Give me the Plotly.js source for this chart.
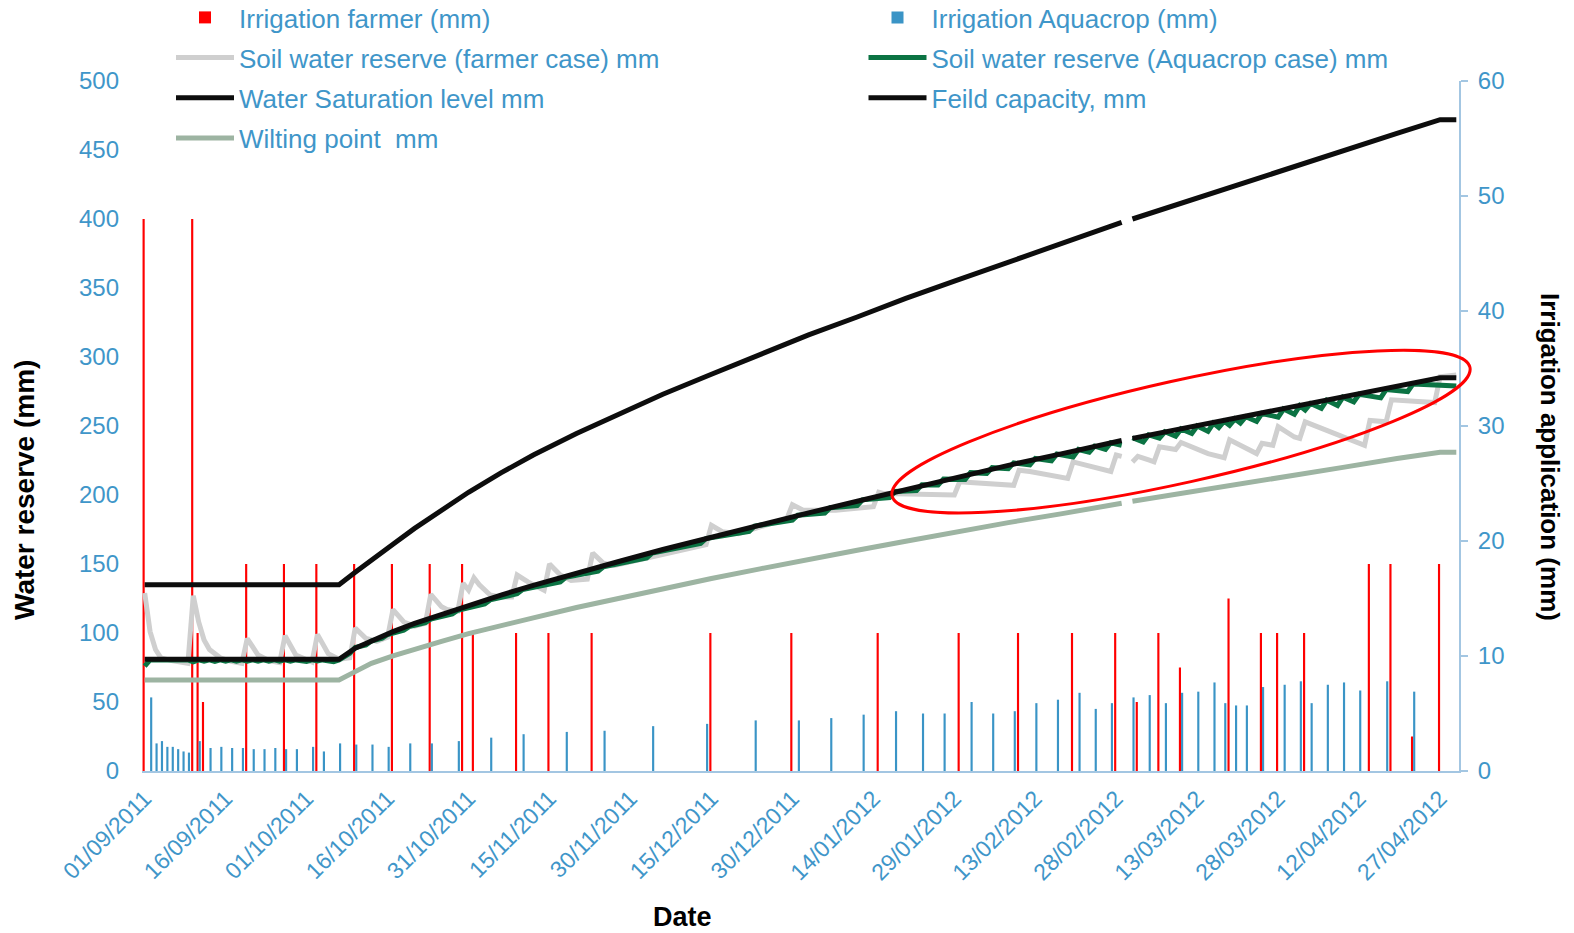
<!DOCTYPE html>
<html>
<head>
<meta charset="utf-8">
<script src="https://cdn.plot.ly/plotly-3.0.1.min.js"></script>
<style>html,body{margin:0;padding:0;background:#fff;}#chart{width:1574px;height:933px;}</style>
</head>
<body>
<div id="chart"></div>
<script>
// ---- Axis tick labels (day index from 01/09/2011) ----
const tickDays = [0,15,30,45,60,75,90,105,120,135,150,165,180,195,210,225,240];
const tickLabels = ['01/09/2011','16/09/2011','01/10/2011','16/10/2011','31/10/2011','15/11/2011','30/11/2011','15/12/2011','30/12/2011','14/01/2012','29/01/2012','13/02/2012','28/02/2012','13/03/2012','28/03/2012','12/04/2012','27/04/2012'];

// ---- Irrigation farmer (mm) ----
const farmerIrrDay = [0,9,10,11,19,26,32,39,46,53,59,61,69,75,83,105,120,136,151,162,172,180,184,188,192,201,207,210,215,227,231,235,240];
const farmerIrrMm  = [48,48,12,6,18,18,18,18,18,18,18,12,12,12,12,12,12,12,12,12,12,12,6,12,9,15,12,12,12,18,18,3,18];

// ---- Irrigation Aquacrop (mm) ----
const aquaIrrDay = [1,2,3,4,5,6,7,8,10,12,14,16,18,20,22,24,26,28,31,33,36,39,42,45,49,53,58,64,70,78,85,94,104,113,121,127,133,139,144,148,153,157,161,165,169,173,176,179,183,186,189,192,195,198,200,202,204,207,211,214,216,219,222,225,230,235];
const aquaIrrMm  = [6.4,2.4,2.6,2.1,2.1,1.9,1.7,1.6,2.6,2.0,2.1,2.0,2.0,1.9,1.9,2.0,1.9,1.9,2.1,1.7,2.4,2.3,2.3,2.1,2.4,2.4,2.6,2.9,3.2,3.4,3.5,3.9,4.1,4.4,4.4,4.6,4.9,5.2,5.0,5.0,6.0,5.0,5.2,5.9,6.2,6.8,5.4,5.9,6.4,6.6,5.9,6.8,6.9,7.7,5.9,5.7,5.7,7.3,7.5,7.8,5.9,7.5,7.7,7.0,7.8,6.9];

// ---- Soil water reserve (farmer case) mm ----
const farmerSwDay = [0,1,2,3,5,8,9,10,11,12,14,16,18,19,21,23,25,26,28,30,31,32,34,36,38,39,41,43,45,46,48,50,52,53,55,56,58,59,60,61,62,64,66,68,69,71,74,75,77,79,82,83,85,87,95,104,105,107,110,119,120,122,128,135,136,137,150,151,153,161,162,164,171,172,174,179,180,181,182,183,184,186,187,188,190,191,192,197,200,201,206,207,209,210,213,214,215,220,226,227,230,231,235,239,240,243];
const farmerSwMm  = [129,101,88,82,80,78,127,108,95,88,82,79.5,78,96,84,80,78.5,98,84,80,79,99,85,81,82,103.5,96,94,97,117,108,105,107,128,119,117,116,136,131,140,135,127.5,126,126,142,137,131,150,142,138,139,158,150.5,149,156,164,178,173.4,172,183,193,189,189,191.5,202,201,200,209.6,209,207,218,217,212,224,222,217,229,228,null,224,228,225.4,224,235,234,233,238,230,227,240,230,237.5,236,249.5,242,241,253,245,236,254,253,269,268,267,285.7,287];

// ---- Soil water reserve (Aquacrop case) mm ----
const aquaSwDay = [0,1,8,9,10,11,12,13,14,15,16,17,18,19,20,21,22,23,24,25,26,27,28,30,31,32,33,35,36,38,39,41,42,44,45,48,49,52,53,57,58,63,64,69,70,77,78,84,85,93,94,103,104,112,113,120,121,126,127,132,133,138,139,143,144,147,148,152,153,156,157,160,161,164,165,168,169,172,173,175,176,178,179,181,182,183,185,186,188,189,191,192,194,195,197,198,199,200,201,202,203,204,206,207,210,211,213,214,215,216,218,219,221,222,224,225,229,230,234,235,243];
const aquaSwMm  = [76,80.5,80.5,79.1,80.5,79.5,80.5,79.4,80.5,79.5,80.5,79.5,80.5,79.6,80.5,79.6,80.5,79.5,80.5,79.6,80.5,79.6,80.5,79.4,80.5,79.7,80.5,79.2,80.5,85.3,89.5,91.4,94.2,96.3,98.9,102,104.6,107.5,110.1,113.8,116.5,121.1,124,128.4,131.5,137.1,140.3,144.8,148,154.4,157.9,164.9,168.5,173.7,177.5,181.7,185.4,186.9,190.8,192.3,196.5,198.1,202.5,203.3,207.5,207.3,211.5,211.3,216.2,215.7,219.8,219.1,223.3,221.8,226.5,224.7,229.7,227.5,233,231,235.4,233.1,237.9,236,null,241.5,238.4,243.6,241.2,245.8,242.6,247.9,244.6,250,246.1,252.1,248.9,253.5,250.5,255.1,252.1,256.7,253.3,259.1,256.4,262.3,258.5,264.7,261.6,266.3,262.8,268.7,264.9,270.9,267.5,273,270.4,276.5,275,280.5,279];

// ---- Water Saturation level mm ----
const satDay = [0,36,39,42,46,50,55,60,66,72,80,88,96,105,114,123,132,141,150,160,170,181,182,183,192,202,212,222,232,240,243];
const satMm  = [135,135,144,153,164.4,175.8,189.3,202,216,229,244.6,259,273,287.5,302,316,329,342.5,355,369,382.5,397.5,null,400,411.5,424.5,437,449.5,462,472,472];

// ---- Feild capacity, mm ----
const fcDay = [0,36,39,42,46,50,55,60,66,72,80,88,96,105,114,123,132,141,150,160,170,181,182,183,192,202,212,222,232,240,243];
const fcMm  = [81,81,89,94.5,101,107,113.5,120,127.5,134.5,143.5,152,160.5,169.5,178,187,195.5,204,212.5,221.5,230,239.5,null,241,248,256,264,271.5,279,285,285];

// ---- Wilting point mm ----
const wpDay = [0,36,39,42,46,50,55,60,66,72,80,88,96,105,114,123,132,141,150,160,170,181,182,183,192,202,212,222,232,240,243];
const wpMm  = [66,66,72,78,83.5,88.5,94,99.5,105.5,111,118.5,125.5,132,139.5,146.5,153.5,160,166.5,173,180,186.5,194,null,195.5,201,207.5,214,220,226.5,231,231];

// ---- styling ----
const FONT = 'Liberation Sans, Arial, sans-serif';
const BLUE_TXT = '#3F96C9';
const AXIS_LINE = '#A3C6E2';
const PLOT = {l:142, r:115, t:81, b:162, W:1574, H:933};
const plotW = PLOT.W - PLOT.l - PLOT.r;
const plotH = PLOT.H - PLOT.t - PLOT.b;
const px2x = px => (px - PLOT.l) / plotW;
const px2y = py => (PLOT.H - PLOT.b - py) / plotH;

// rotated ellipse (highlight) drawn with cubic Béziers in paper coords
function ellipsePath(cx, cy, a, b, deg) {
  const t = deg * Math.PI / 180, c = Math.cos(t), s = Math.sin(t), k = 0.5523;
  const P = (u, v) => {
    const X = cx + u * c + v * s;
    const Y = cy - u * s + v * c;
    return px2x(X).toFixed(5) + ',' + px2y(Y).toFixed(5);
  };
  return 'M' + P(a, 0) +
    ' C' + P(a, k*b) + ' ' + P(k*a, b) + ' ' + P(0, b) +
    ' C' + P(-k*a, b) + ' ' + P(-a, k*b) + ' ' + P(-a, 0) +
    ' C' + P(-a, -k*b) + ' ' + P(-k*a, -b) + ' ' + P(0, -b) +
    ' C' + P(k*a, -b) + ' ' + P(a, -k*b) + ' ' + P(a, 0) + ' Z';
}

const traces = [
  {type:'bar', name:'Irrigation farmer (mm)', x:farmerIrrDay, y:farmerIrrMm, yaxis:'y',
   marker:{color:'#FF0000', line:{width:0}}, legend:'legend', legendgroup:'a1', legendrank:1},
  {type:'bar', name:'Irrigation Aquacrop (mm)', x:aquaIrrDay, y:aquaIrrMm, yaxis:'y',
   marker:{color:'#3A94C6', line:{width:0}}, legend:'legend2', legendgroup:'b1', legendrank:1},
  {type:'scatter', mode:'lines', name:'Soil water reserve (farmer case) mm', x:farmerSwDay, y:farmerSwMm, yaxis:'y2',
   line:{color:'#CFCFCF', width:5}, legend:'legend', legendgroup:'a2', legendrank:2},
  {type:'scatter', mode:'lines', name:'Soil water reserve (Aquacrop case) mm', x:aquaSwDay, y:aquaSwMm, yaxis:'y2',
   line:{color:'#0B7343', width:5}, legend:'legend2', legendgroup:'b2', legendrank:2},
  {type:'scatter', mode:'lines', name:'Water Saturation level mm', x:satDay, y:satMm, yaxis:'y2',
   line:{color:'#0D0D0D', width:5}, legend:'legend', legendgroup:'a3', legendrank:3},
  {type:'scatter', mode:'lines', name:'Feild capacity, mm', x:fcDay, y:fcMm, yaxis:'y2',
   line:{color:'#0D0D0D', width:5}, legend:'legend2', legendgroup:'b3', legendrank:3},
  {type:'scatter', mode:'lines', name:'Wilting point  mm', x:wpDay, y:wpMm, yaxis:'y2',
   line:{color:'#9DB4A2', width:5}, legend:'legend', legendgroup:'a4', legendrank:4}
];

const ITEMW = 58;
const legendBase = {
  xref:'container', yref:'paper', xanchor:'left', yanchor:'top', y:px2y(-6),
  orientation:'v', traceorder:'grouped', tracegroupgap:3.4, itemwidth:ITEMW,
  font:{size:26, color:BLUE_TXT, family:FONT}, bgcolor:'rgba(0,0,0,0)', borderwidth:0
};

const layout = {
  width:PLOT.W, height:PLOT.H,
  margin:{l:PLOT.l, r:PLOT.r, t:PLOT.t, b:PLOT.b, autoexpand:false},
  paper_bgcolor:'#ffffff', plot_bgcolor:'#ffffff',
  font:{family:FONT, color:BLUE_TXT},
  barmode:'group', bargap:0.2,
  showlegend:true,
  legend:Object.assign({}, legendBase, {x:(239 - ITEMW - 10)/1574}),
  legend2:Object.assign({}, legendBase, {x:(931.5 - ITEMW - 10)/1574}),
  xaxis:{range:[-0.5,243.5], tickmode:'array', tickvals:tickDays, ticktext:tickLabels, tickangle:-45,
    tickfont:{size:23, color:BLUE_TXT, family:FONT}, showline:true, linecolor:AXIS_LINE, linewidth:2,
    showgrid:false, zeroline:false, ticks:'', ticklabelstandoff:3, fixedrange:true},
  yaxis:{range:[0,60], side:'right', tick0:0, dtick:10, showline:true, linecolor:AXIS_LINE, linewidth:2,
    ticks:'outside', ticklen:7, tickwidth:2, tickcolor:AXIS_LINE,
    tickfont:{size:24, color:BLUE_TXT, family:FONT}, showgrid:false, zeroline:false, ticklabelstandoff:5, fixedrange:true},
  yaxis2:{range:[0,500], overlaying:'y', side:'left', tick0:0, dtick:50, showline:false, ticks:'',
    tickfont:{size:24, color:BLUE_TXT, family:FONT}, showgrid:false, zeroline:false, ticklabelstandoff:22, fixedrange:true},
  annotations:[
    {text:'<b>Water reserve (mm)</b>', xref:'paper', yref:'paper', x:px2x(24), y:px2y(490), textangle:-90,
     showarrow:false, xanchor:'center', yanchor:'middle', font:{size:28, color:'#000000', family:FONT}},
    {text:'<b>Irrigation application (mm)</b>', xref:'paper', yref:'paper', x:px2x(1550), y:px2y(457), textangle:90,
     showarrow:false, xanchor:'center', yanchor:'middle', font:{size:26, color:'#000000', family:FONT}},
    {text:'<b>Date</b>', xref:'paper', yref:'paper', x:px2x(682), y:px2y(917),
     showarrow:false, xanchor:'center', yanchor:'middle', font:{size:27, color:'#000000', family:FONT}}
  ],
  shapes:[
    {type:'path', xref:'paper', yref:'paper', layer:'above', path:ellipsePath(1181, 431.6, 296, 51, 12.55),
     line:{color:'#FF0000', width:3}, fillcolor:'rgba(0,0,0,0)'}
  ]
};

Plotly.newPlot('chart', traces, layout, {displayModeBar:false, staticPlot:true});
</script>
</body>
</html>
